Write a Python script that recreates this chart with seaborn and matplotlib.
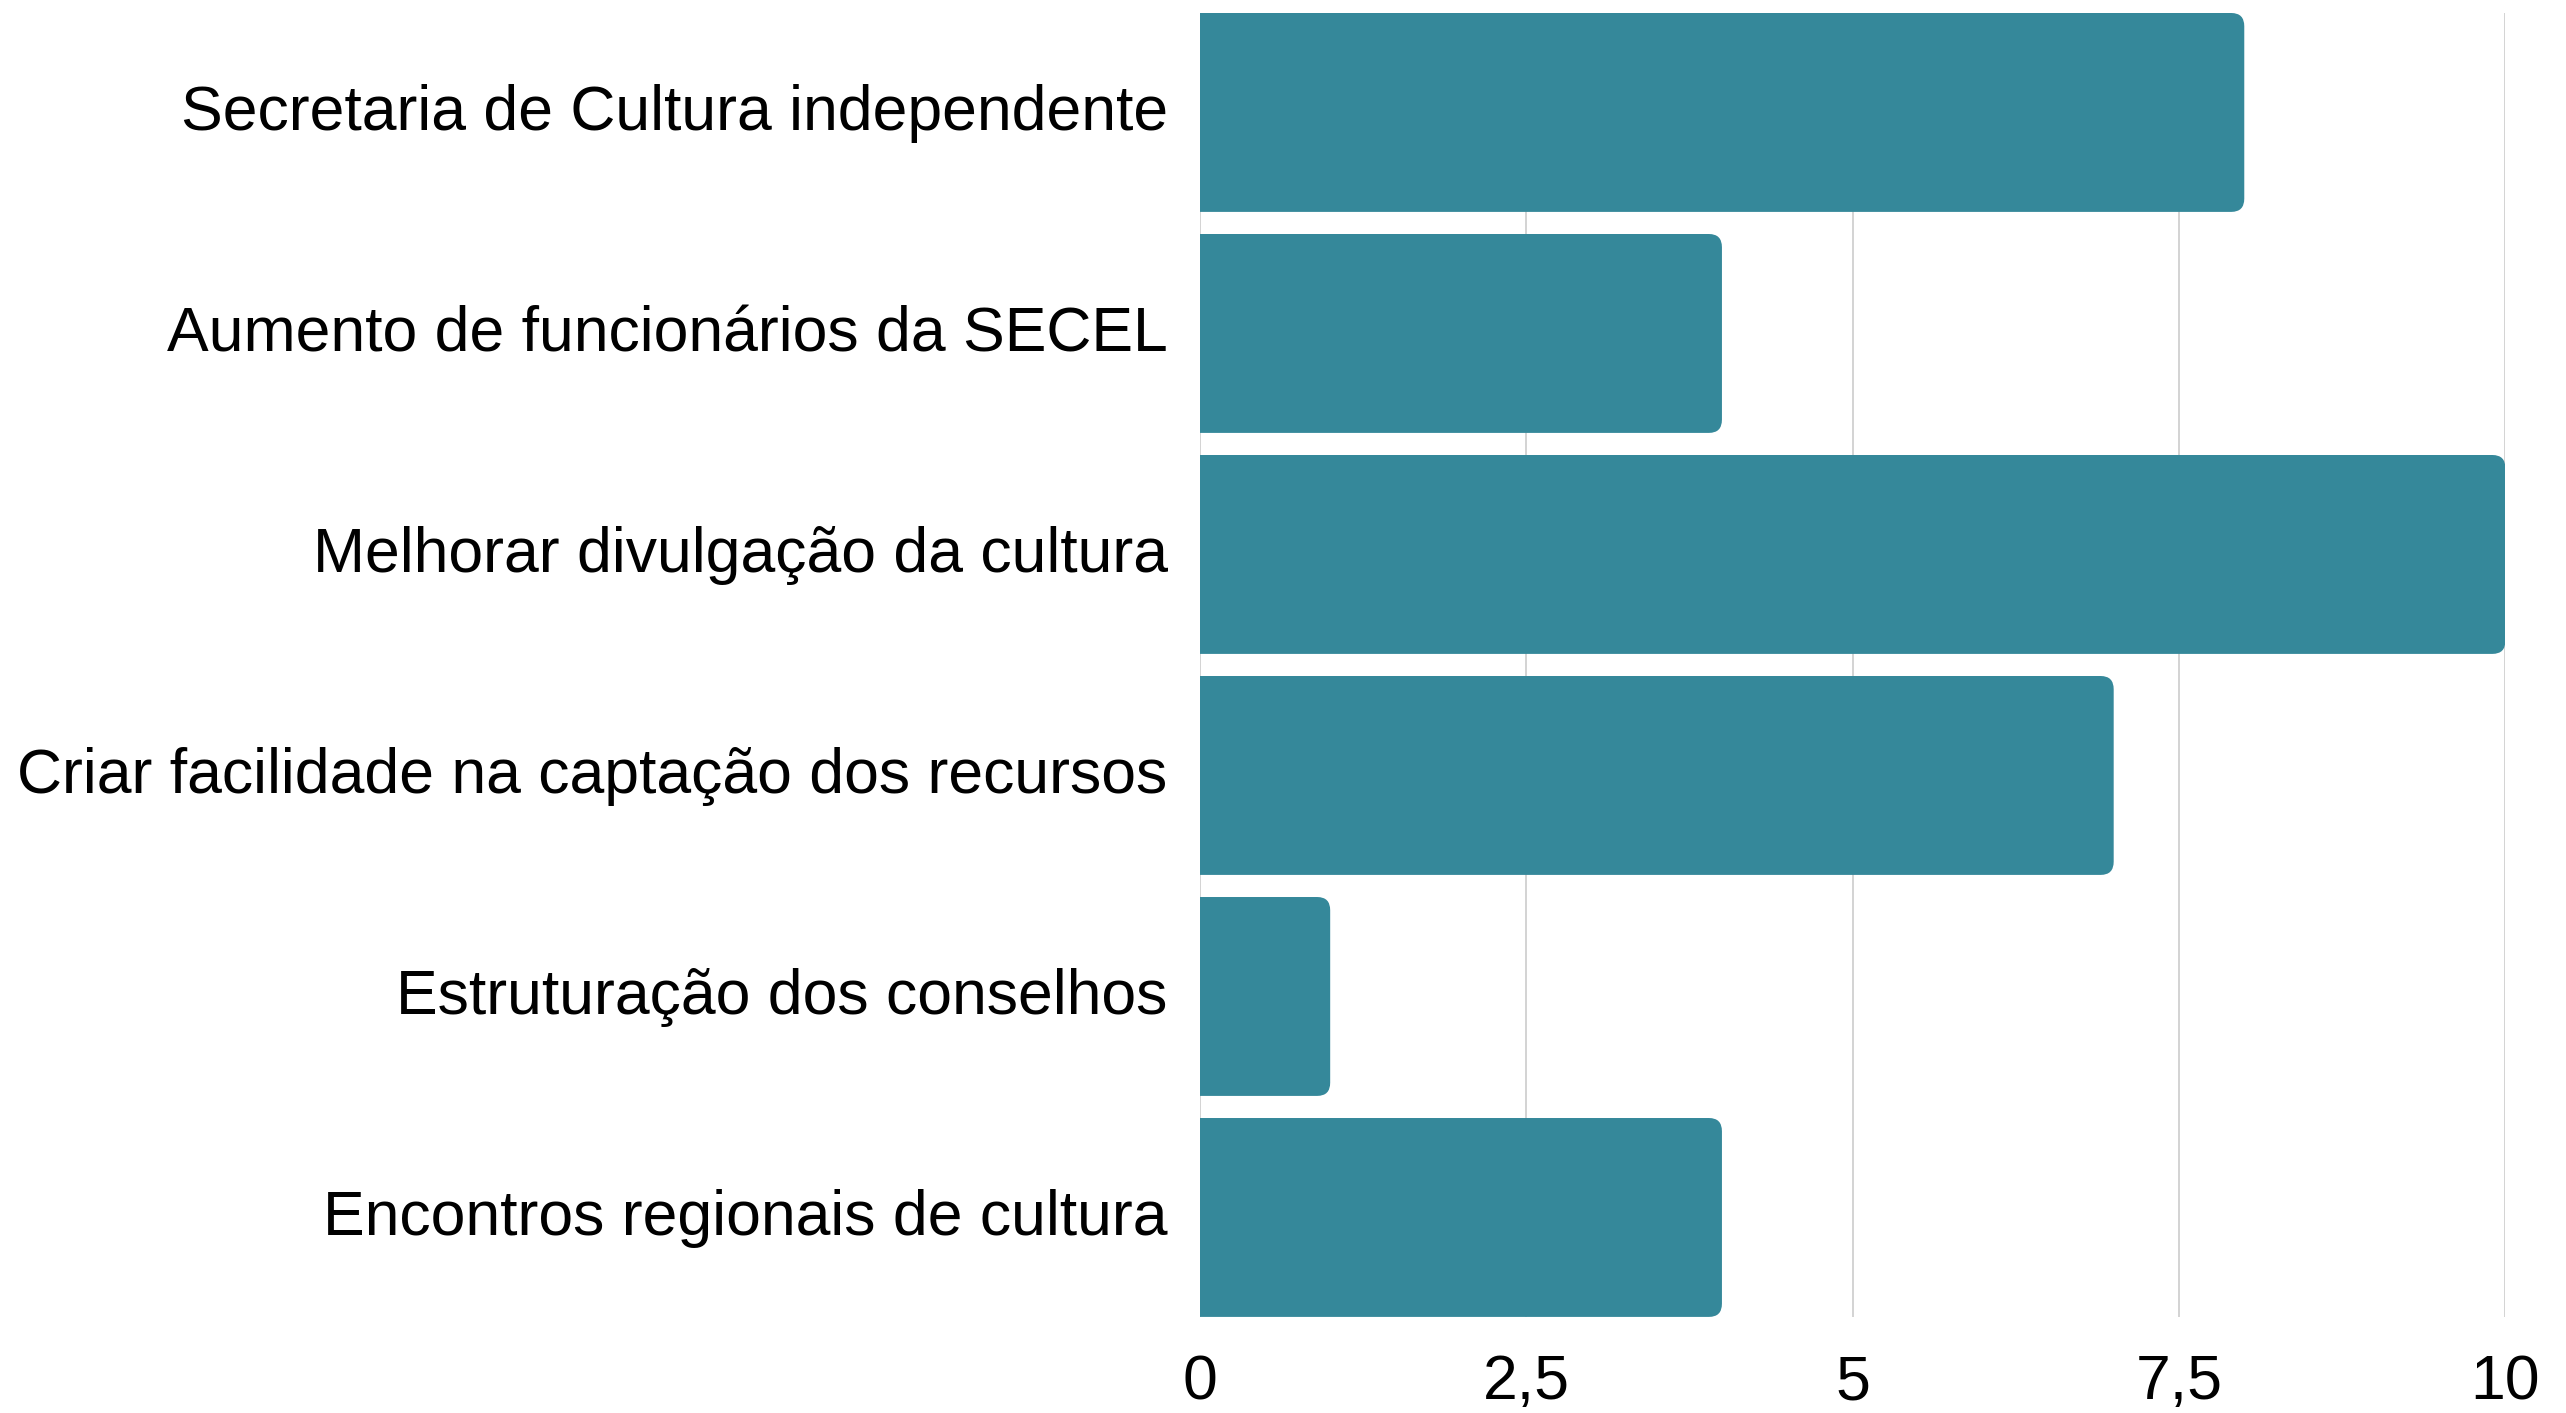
import matplotlib
matplotlib.use("Agg")
import matplotlib.pyplot as plt
import matplotlib.transforms as mtransforms
import seaborn as sns
import pandas as pd
from matplotlib.patches import FancyBboxPatch

categories = [
    "Secretaria de Cultura independente",
    "Aumento de funcionários da SECEL",
    "Melhorar divulgação da cultura",
    "Criar facilidade na captação dos recursos",
    "Estruturação dos conselhos",
    "Encontros regionais de cultura",
]
values = [8, 4, 10, 7, 1, 4]
xticks = [0, 2.5, 5, 7.5, 10]
xtick_labels = ["0", "2,5", "5", "7,5", "10"]

sns.set_theme(style="white")
plt.rcParams["font.family"] = ["Liberation Sans", "DejaVu Sans"]

df = pd.DataFrame({"cat": categories, "val": values})

fig = plt.figure(figsize=(25.66, 14.13), dpi=100)
ax = fig.add_axes([0.4675, 0.068, 0.9764 - 0.4675, 0.9908 - 0.068])

bar_color = "#35889A"
sns.barplot(data=df, x="val", y="cat", orient="h", color=bar_color,
            saturation=1, width=0.9, ax=ax, zorder=2)

ax.set_xlim(0, 10)
ax.set_ylim(len(categories) - 0.55, -0.45)

# replace bars with right-rounded versions
fig.canvas.draw()
bbox = ax.get_window_extent()
px_per_x = bbox.width / 10.0
px_per_y = bbox.height / len(categories)
aspect = px_per_x / px_per_y
r = 13 / px_per_x
for p in list(ax.patches):
    x0, y0 = p.get_x(), p.get_y()
    w, h = p.get_width(), p.get_height()
    p.set_visible(False)
    fb = FancyBboxPatch((x0 - 2 * r, y0), w + 2 * r, h,
                        boxstyle=f"round,pad=0,rounding_size={r}",
                        mutation_aspect=aspect,
                        facecolor=bar_color, edgecolor="none", zorder=2)
    ax.add_patch(fb)

ax.set_xticks(xticks)
ax.set_xticklabels(xtick_labels)
ax.xaxis.grid(True, color="#CCCCCC", linewidth=1.2, zorder=0)
ax.yaxis.grid(False)
ax.set_axisbelow(True)
for s in ax.spines.values():
    s.set_visible(False)
ax.set_xlabel("")
ax.set_ylabel("")
ax.tick_params(axis="y", length=0, pad=23, labelsize=45, labelcolor="black")
ax.tick_params(axis="x", length=0, pad=26, labelsize=45, labelcolor="black")

shift = mtransforms.ScaledTranslation(0, 5 / 100, fig.dpi_scale_trans)
for lab in ax.get_yticklabels():
    lab.set_transform(lab.get_transform() + shift)

fig.savefig("out.png", dpi=100, facecolor="white")
